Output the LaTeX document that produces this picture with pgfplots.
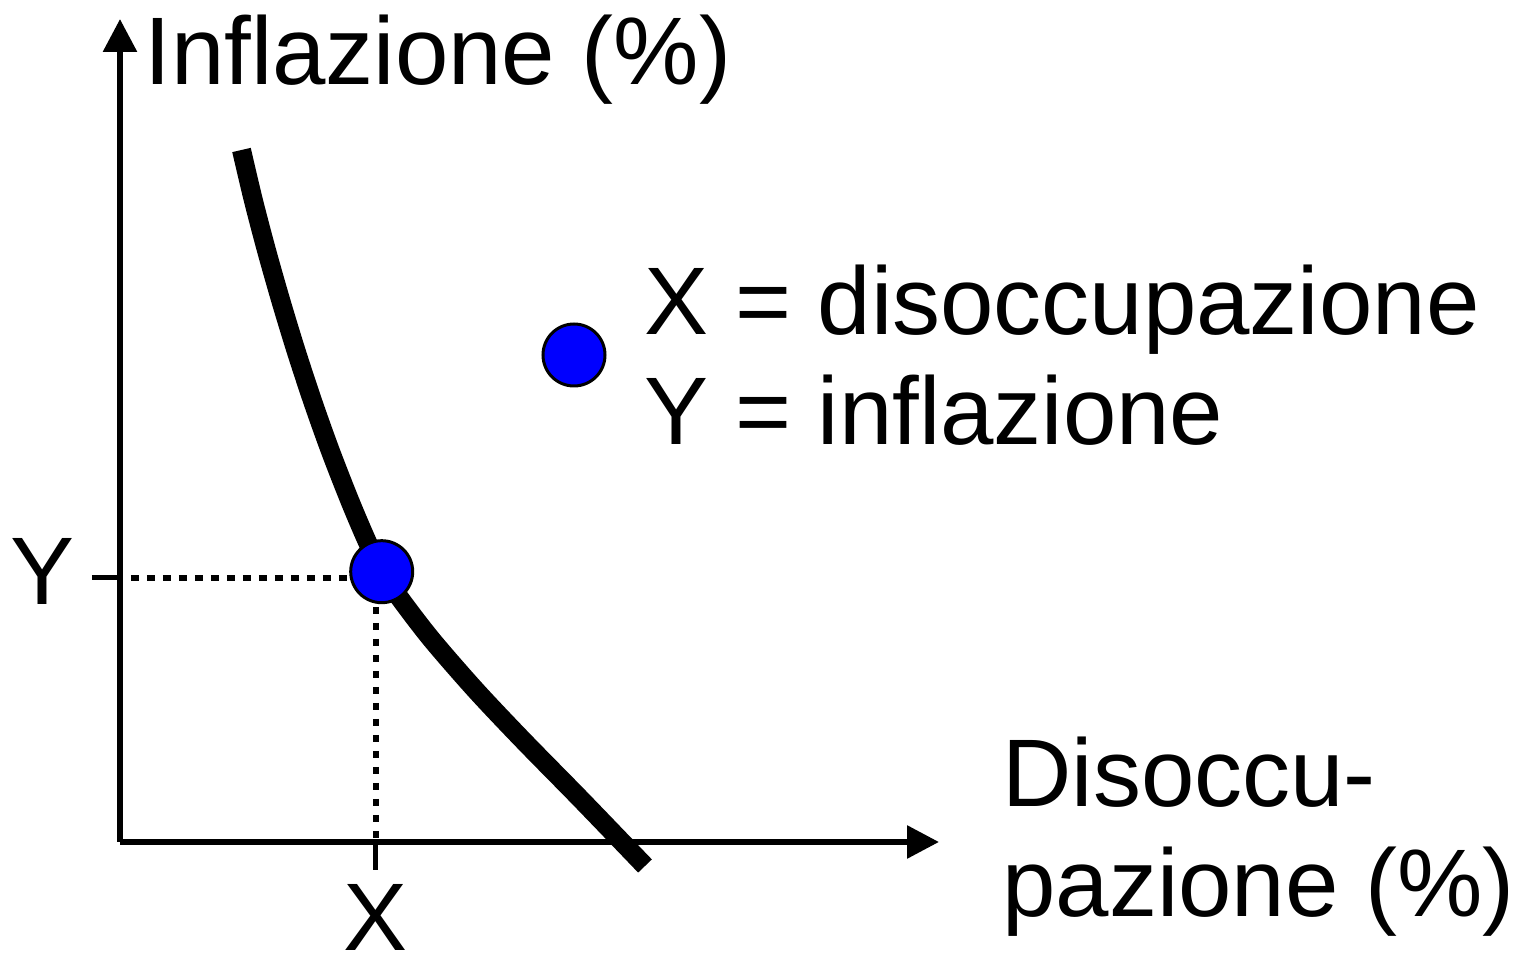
\documentclass[border=0pt]{standalone}
\usepackage{fontspec}
\setmainfont{Liberation Sans}[Ligatures=NoCommon]
\usepackage{pgfplots}
\pgfplotsset{compat=1.18}
\usetikzlibrary{arrows.meta}
\definecolor{dotblue}{RGB}{0,0,255}
\newcommand{\bigfont}{\fontsize{48}{55}\selectfont}
\begin{document}
\begin{tikzpicture}
\begin{axis}[
  scale only axis, width=409.5pt, height=411.5pt,
  xmin=0, xmax=819, ymin=0, ymax=823,
  axis lines=left,
  axis line style={line width=3pt, black},
  x axis line style={-{Triangle[length=16pt,width=16pt]}},
  y axis line style={-{Triangle[length=16.5pt,width=16.5pt]}},
  clip=false,
  xtick={256}, xticklabels={X},
  ytick={264}, yticklabels={Y},
  tick align=outside,
  major tick length=14pt,
  major tick style={line width=2.5pt, black},
  tick label style={font=\bigfont, inner sep=0pt},
  xticklabel style={yshift=-7pt},
  yticklabel style={xshift=-8.5pt, yshift=3.25pt},
  xlabel={Disoccu-\\pazione (\%)},
  ylabel={Inflazione (\%)},
  every axis x label/.style={at={(axis description cs:1.0769,-0.0911)}, anchor=base west, align=left, inner sep=0pt, font=\bigfont},
  every axis y label/.style={at={(axis description cs:0.0293,0.9198)}, anchor=base west, inner sep=0pt, font=\bigfont},
]
\path (axis cs:-120,842) rectangle (axis cs:1408,-116);
% Phillips curve
\addplot[black, line width=9.5pt, smooth] coordinates {
(121.5,692) (133.3,642) (146.4,592) (160.6,542) (175.8,492) (192.2,442)
(210,392) (229.5,342) (246.5,302) (261.7,270.3) (281.2,242) (312,202)
(355.5,152) (402.7,102) (461.5,42) (525,-24)};
% dotted guides
\addplot[black, line width=3pt, dash pattern=on 4pt off 4pt] coordinates {(11,264) (230,264)};
\addplot[black, line width=3pt, dash pattern=on 3.5pt off 4.5pt] coordinates {(256,235) (256,0)};
% points
\addplot[only marks, mark=*, mark size=15.5pt, mark options={fill=dotblue, draw=black, line width=1.5pt}] coordinates {(261.7,270.3)};
\addplot[only marks, mark=*, mark size=15.5pt, mark options={fill=dotblue, draw=black, line width=1.5pt}] coordinates {(454,487)};
\node[anchor=base west, align=left, inner sep=0pt, font=\bigfont] at (axis cs:524,397) {X = disoccupazione\\Y = inflazione};
\end{axis}
\end{tikzpicture}
\end{document}
